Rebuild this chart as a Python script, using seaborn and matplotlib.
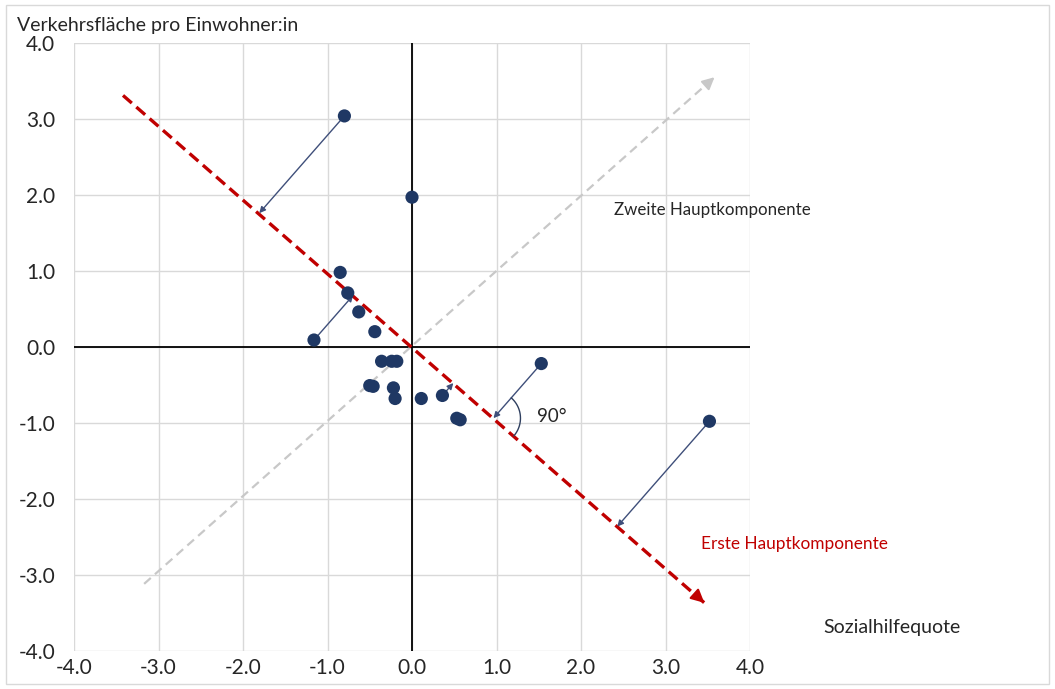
import numpy as np
import pandas as pd
import seaborn as sns
import matplotlib
matplotlib.use("Agg")
import matplotlib.pyplot as plt
from matplotlib.patches import Rectangle

# data points (standardised values)
sozialhilfe = [-0.80, 0.00, -0.85, -0.76, -0.63, -0.44, -1.16, -0.36, -0.24, -0.18,
               -0.50, -0.46, -0.22, -0.20, 0.11, 0.36, 0.53, 0.57, 1.53, 3.52]
verkehr = [3.04, 1.97, 0.98, 0.71, 0.46, 0.20, 0.09, -0.19, -0.19, -0.19,
           -0.51, -0.52, -0.54, -0.68, -0.68, -0.64, -0.94, -0.96, -0.22, -0.98]
# points with a projection arrow onto the first component
arrow_idx = [0, 6, 15, 18, 19]
angle_idx = 18

# principal component arrows (start, end)
pc1_x = [-3.42, 3.46]
pc1_y = [3.31, -3.37]
pc2_x = [-3.17, 3.58]
pc2_y = [-3.12, 3.55]

ticks = [-4, -3, -2, -1, 0, 1, 2, 3, 4]
tick_labels = [f"{t:.1f}" for t in ticks]

df = pd.DataFrame({"x": sozialhilfe, "y": verkehr})

sns.set_style("white")
plt.rcParams["font.family"] = ["Lato", "DejaVu Sans"]

fig = plt.figure(figsize=(10.55, 6.89), dpi=100)
ax = fig.add_axes([74 / 1055, 1 - 650.7 / 689, 676 / 1055, (650.7 - 43) / 689])
ax.set_xlim(-4, 4)
ax.set_ylim(-4, 4)
ax.set_xticks(ticks)
ax.set_yticks(ticks)
ax.set_xticklabels(tick_labels, fontsize=15, color="#262626")
ax.set_yticklabels(tick_labels, fontsize=15, color="#262626")
ax.tick_params(length=0)
ax.tick_params(axis="y", pad=13.5)
ax.tick_params(axis="x", pad=5.5)
ax.grid(True, color="#d9d9d9", lw=1)
for s in ax.spines.values():
    s.set_visible(False)
ax.axhline(0, color="black", lw=1.3, zorder=2)
ax.axvline(0, color="black", lw=1.3, zorder=2)

# second component (grey, dashed)
ax.plot(pc2_x, pc2_y, color="#c8c8c8", lw=1.6, ls=(0, (4, 2.5)), zorder=2)
ax.annotate("", xy=(pc2_x[1], pc2_y[1]),
            xytext=(pc2_x[1] - 0.05, pc2_y[1] - 0.05),
            arrowprops=dict(arrowstyle="-|>", color="#c8c8c8", lw=1.5,
                            mutation_scale=18, shrinkA=0, shrinkB=0))

# first component (red, dashed)
ax.plot(pc1_x, pc1_y, color="#c00000", lw=2.4, ls=(0, (3.5, 1.8)), zorder=3)
ax.annotate("", xy=(pc1_x[1], pc1_y[1]),
            xytext=(pc1_x[1] - 0.05, pc1_y[1] + 0.05),
            arrowprops=dict(arrowstyle="-|>", color="#c00000", lw=1.5,
                            mutation_scale=20, shrinkA=0, shrinkB=0), zorder=3)

sns.scatterplot(data=df, x="x", y="y", ax=ax, color="#1f3864", s=90,
                edgecolor="none", zorder=5)
ax.set_xlabel("")
ax.set_ylabel("")

# projections onto the first component in display space
tr = ax.transData
o = tr.transform((0, 0))
d = tr.transform((pc1_x[1], pc1_y[1])) - o
d = d / np.linalg.norm(d)
for i in arrow_idx:
    p = tr.transform((sozialhilfe[i], verkehr[i])) - o
    foot = o + np.dot(p, d) * d
    fx, fy = tr.inverted().transform(foot)
    ax.annotate("", xy=(fx, fy), xytext=(sozialhilfe[i], verkehr[i]),
                arrowprops=dict(arrowstyle="-|>", color="#3f4f7a", lw=1,
                                mutation_scale=9, shrinkA=4, shrinkB=0), zorder=4)
    if i == angle_idx:
        u = (o + p) - foot
        a2 = np.arctan2(u[1], u[0])
        a1 = np.arctan2(d[1], d[0])
        t = np.linspace(a1, a2, 40)
        arc = np.column_stack([foot[0] + 27 * np.cos(t), foot[1] + 27 * np.sin(t)])
        arc = tr.inverted().transform(arc)
        ax.plot(arc[:, 0], arc[:, 1], color="#2f3f5f", lw=1, zorder=4)

ax.text(1.48, -0.92, "90°", fontsize=13.5, color="#262626", va="center")
ax.text(2.39, 1.80, "Zweite Hauptkomponente", fontsize=12.2, color="#262626",
        va="center")
ax.text(3.42, -2.59, "Erste Hauptkomponente", fontsize=12.4, color="#c00000",
        va="center")
fig.text(823 / 1055, 1 - 627 / 689, "Sozialhilfequote", fontsize=14,
         color="#262626", va="center")
fig.text(17 / 1055, 1 - 25 / 689, "Verkehrsfläche pro Einwohner:in", fontsize=14,
         color="#262626", va="center")

fig.patches.append(Rectangle((6 / 1055, 5 / 689), 1043 / 1055, 679 / 689,
                             transform=fig.transFigure, fill=False,
                             ec="#d9d9d9", lw=1))

plt.savefig("out.png", dpi=100)
plt.close()
